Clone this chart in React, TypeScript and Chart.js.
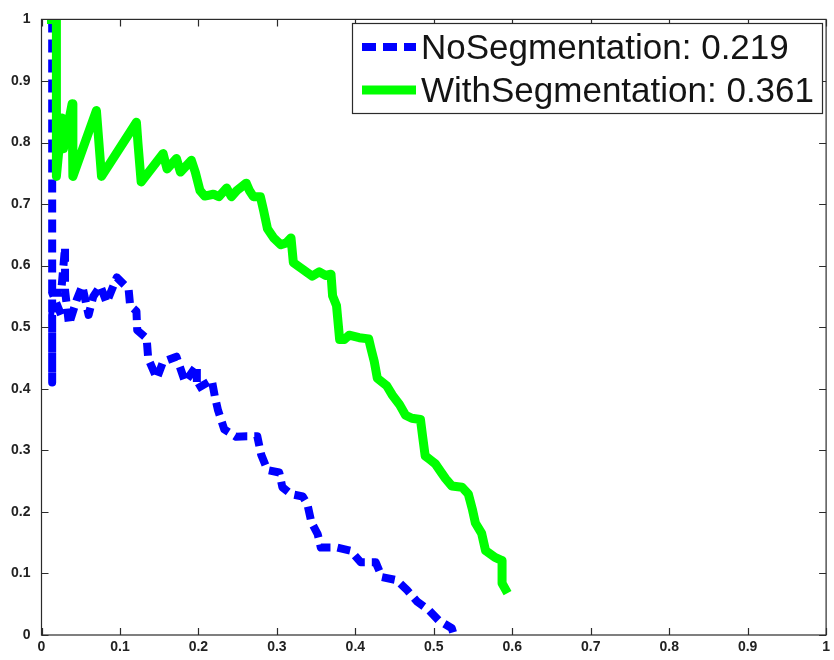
import React, { useEffect, useRef } from "react";
import { Chart, registerables } from "chart.js";

Chart.register(...registerables);

const seriesNames = ["NoSegmentation: 0.219", "WithSegmentation: 0.361"];

const noSegRecall = [
  0.0136, 0.0136, 0.0136, 0.025, 0.0136, 0.025, 0.03, 0.03, 0.035, 0.045, 0.052, 0.06, 0.066, 0.075,
  0.083, 0.096, 0.111, 0.113, 0.121, 0.122, 0.134, 0.136, 0.147, 0.155, 0.172, 0.183, 0.198, 0.198,
  0.217, 0.221, 0.225, 0.233, 0.248, 0.262, 0.275, 0.28, 0.288, 0.303, 0.307, 0.318, 0.333, 0.339,
  0.344, 0.352, 0.356, 0.377, 0.394, 0.407, 0.426, 0.434, 0.453, 0.466, 0.479, 0.494, 0.506, 0.523,
  0.525,
];
const noSegPrecision = [
  1.0, 0.41, 0.52, 0.52, 0.556, 0.556, 0.63, 0.56, 0.505, 0.545, 0.567, 0.52, 0.55, 0.567,
  0.54, 0.581, 0.562, 0.535, 0.526, 0.495, 0.482, 0.449, 0.417, 0.444, 0.452, 0.411, 0.438, 0.4,
  0.414, 0.387, 0.365, 0.334, 0.322, 0.323, 0.323, 0.293, 0.268, 0.264, 0.24, 0.229, 0.225, 0.212,
  0.183, 0.164, 0.142, 0.142, 0.137, 0.118, 0.118, 0.094, 0.089, 0.073, 0.054, 0.04, 0.024, 0.011,
  0.002,
];

const withSegRecall = [
  0.007, 0.019, 0.019, 0.026, 0.028, 0.039, 0.04, 0.07, 0.0765, 0.121, 0.123, 0.127, 0.155, 0.16,
  0.172, 0.177, 0.191, 0.196, 0.202, 0.208, 0.219, 0.226, 0.236, 0.242, 0.249, 0.261, 0.265, 0.27,
  0.279, 0.283, 0.288, 0.296, 0.305, 0.312, 0.318, 0.321, 0.333, 0.345, 0.354, 0.362, 0.369, 0.371,
  0.376, 0.38, 0.386, 0.392, 0.405, 0.417, 0.42, 0.424, 0.428, 0.44, 0.447, 0.456, 0.464, 0.472,
  0.483, 0.486, 0.489, 0.495, 0.502, 0.509, 0.515, 0.523, 0.536, 0.544, 0.549, 0.553, 0.561, 0.566,
  0.578, 0.587, 0.587, 0.594,
];
const withSegPrecision = [
  1.0, 1.0, 0.745, 0.84, 0.79, 0.863, 0.745, 0.852, 0.745, 0.833, 0.798, 0.736, 0.782, 0.757,
  0.774, 0.752, 0.771, 0.752, 0.722, 0.713, 0.716, 0.712, 0.726, 0.712, 0.722, 0.734, 0.722, 0.712,
  0.712, 0.69, 0.66, 0.645, 0.634, 0.637, 0.645, 0.605, 0.594, 0.583, 0.59, 0.584, 0.586, 0.551,
  0.535, 0.48, 0.48, 0.487, 0.483, 0.481, 0.465, 0.445, 0.417, 0.405, 0.39, 0.375, 0.357, 0.352,
  0.35, 0.32, 0.291, 0.285, 0.278, 0.265, 0.254, 0.242, 0.24, 0.229, 0.205, 0.182, 0.165, 0.137,
  0.126, 0.121, 0.084, 0.068,
];

const tickValues = [0, 0.1, 0.2, 0.3, 0.4, 0.5, 0.6, 0.7, 0.8, 0.9, 1];
const tickLabels = ["0", "0.1", "0.2", "0.3", "0.4", "0.5", "0.6", "0.7", "0.8", "0.9", "1"];

const BLUE = "#0000ff";
const GREEN = "#00ff00";
const AXIS = "#2b2b2b";

function toPoints(xs: number[], ys: number[]) {
  return xs.map((x, i) => ({ x, y: ys[i] }));
}

function labelFor(v: number) {
  const i = tickValues.findIndex((t) => Math.abs(t - v) < 1e-6);
  return i >= 0 ? tickLabels[i] : "";
}

const framePlugin = {
  id: "frame",
  afterDatasetsDraw(chart: any) {
    const { ctx, chartArea, scales } = chart;
    const { left, right, top, bottom } = chartArea;
    ctx.save();
    ctx.strokeStyle = AXIS;
    ctx.lineWidth = 1.2;
    ctx.strokeRect(left, top, right - left, bottom - top);
    const len = 7;
    ctx.beginPath();
    tickValues.forEach((v) => {
      const px = Math.round(scales.x.getPixelForValue(v)) + 0.5;
      ctx.moveTo(px, bottom);
      ctx.lineTo(px, bottom - len);
      ctx.moveTo(px, top);
      ctx.lineTo(px, top + len);
      const py = Math.round(scales.y.getPixelForValue(v)) + 0.5;
      ctx.moveTo(left, py);
      ctx.lineTo(left + len, py);
      ctx.moveTo(right, py);
      ctx.lineTo(right - len, py);
    });
    ctx.stroke();
    ctx.restore();
  },
};

const legendPlugin = {
  id: "matlabLegend",
  afterDraw(chart: any) {
    const { ctx } = chart;
    const bx = 352, by = 23, bw = 470, bh = 90;
    ctx.save();
    ctx.fillStyle = "#ffffff";
    ctx.fillRect(bx, by, bw, bh);
    ctx.strokeStyle = AXIS;
    ctx.lineWidth = 1.2;
    ctx.strokeRect(bx + 0.5, by + 0.5, bw, bh);
    const rows = [
      { y: 47, base: 59, color: BLUE, dash: [14, 7], width: 8 },
      { y: 90, base: 102, color: GREEN, dash: [], width: 9 },
    ];
    chart.data.datasets.forEach((ds: any, i: number) => {
      const r = rows[i];
      ctx.beginPath();
      ctx.setLineDash(r.dash);
      ctx.lineCap = "butt";
      ctx.strokeStyle = r.color;
      ctx.lineWidth = r.width;
      ctx.moveTo(362, r.y);
      ctx.lineTo(416, r.y);
      ctx.stroke();
      ctx.setLineDash([]);
      ctx.fillStyle = "#141414";
      ctx.font = '35px "Liberation Sans", Arial, sans-serif';
      ctx.textBaseline = "alphabetic";
      ctx.textAlign = "left";
      ctx.fillText(ds.label, 421, r.base);
    });
    ctx.restore();
  },
};

export default function App() {
  const ref = useRef<HTMLCanvasElement | null>(null);

  useEffect(() => {
    if (!ref.current) return;
    const tickFont = { family: '"Liberation Sans", Arial, sans-serif', size: 14, weight: "bold" as const };
    const chart = new Chart(ref.current, {
      type: "scatter",
      data: {
        datasets: [
          {
            label: seriesNames[0],
            data: toPoints(noSegRecall, noSegPrecision),
            showLine: true,
            borderColor: BLUE,
            backgroundColor: BLUE,
            borderWidth: 8,
            borderDash: [13, 7],
            borderJoinStyle: "round",
            pointRadius: 0,
            tension: 0,
            clip: 0,
            order: 1,
          },
          {
            label: seriesNames[1],
            data: toPoints(withSegRecall, withSegPrecision),
            showLine: true,
            borderColor: GREEN,
            backgroundColor: GREEN,
            borderWidth: 9,
            borderJoinStyle: "round",
            pointRadius: 0,
            tension: 0,
            clip: 0,
            order: 0,
          },
        ],
      },
      options: {
        animation: false,
        responsive: false,
        events: [],
        layout: { padding: { top: 15, right: 4, left: 0, bottom: 0 } },
        plugins: {
          legend: { display: false },
          tooltip: { enabled: false },
          title: { display: false },
        },
        scales: {
          x: {
            type: "linear",
            min: 0,
            max: 1,
            afterFit: (s: any) => {
              s.height = 25;
            },
            afterBuildTicks: (s: any) => {
              s.ticks = tickValues.map((v) => ({ value: v }));
            },
            grid: { display: false, drawTicks: false },
            border: { display: false },
            ticks: {
              padding: 4,
              color: "#222",
              font: tickFont,
              maxRotation: 0,
              autoSkip: false,
              callback: (v: any) => labelFor(Number(v)),
            },
          },
          y: {
            type: "linear",
            min: 0,
            max: 1,
            afterFit: (s: any) => {
              s.width = 41.5;
            },
            afterBuildTicks: (s: any) => {
              s.ticks = tickValues.map((v) => ({ value: v }));
            },
            grid: { display: false, drawTicks: false },
            border: { display: false },
            ticks: {
              padding: 11,
              color: "#222",
              font: tickFont,
              autoSkip: false,
              callback: (v: any) => labelFor(Number(v)),
            },
          },
        },
      },
      plugins: [framePlugin, legendPlugin],
    } as any);
    return () => chart.destroy();
  }, []);

  return (
    <div style={{ position: "fixed", left: 0, top: 0, width: 834, height: 660, background: "#fff" }}>
      <canvas ref={ref} width={834} height={660} style={{ display: "block", width: 834, height: 660 }} />
    </div>
  );
}
